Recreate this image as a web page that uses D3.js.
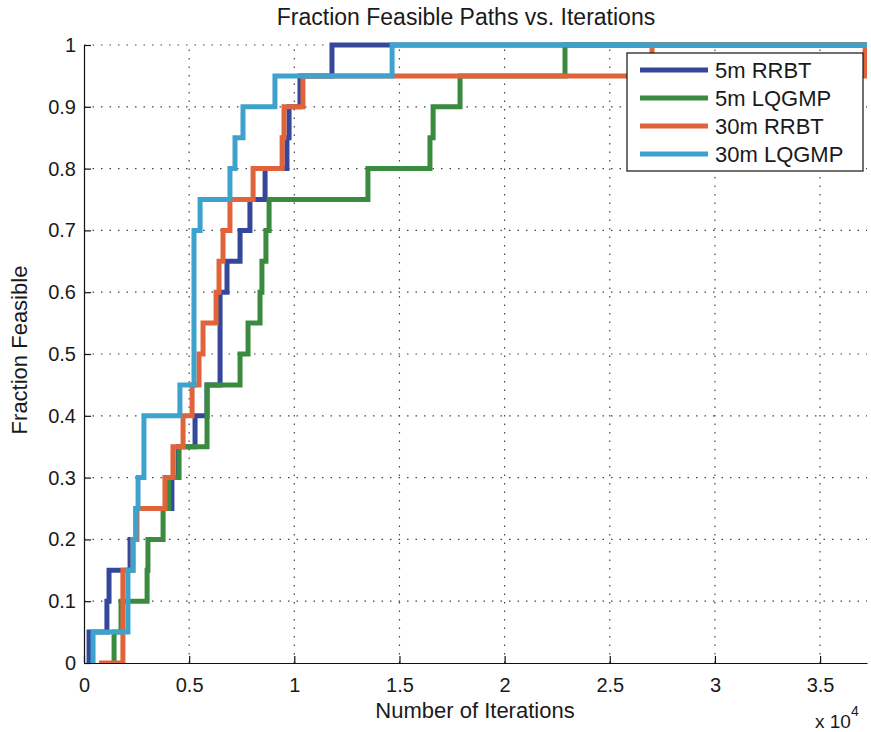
<!DOCTYPE html>
<html>
<head>
<meta charset="utf-8">
<script src="https://cdn.jsdelivr.net/npm/d3@7"></script>
<style>
  body { margin: 0; background: #fff; }
  svg text { font-family: "Liberation Sans", Arial, sans-serif; fill: #1a1a1a; }
</style>
</head>
<body>
<div id="chart"></div>
<script>
// iterations (x) at which each stair step happens, and the fraction reached there
const rrbt5X = [240, 240, 1090, 1190, 2190, 2470, 4180, 4470, 5280, 5850, 6470, 6470, 6470, 6800, 7420, 7890, 8610, 9650, 9750, 10270, 11790, 37230];
const rrbt5Y = [0, 0.05, 0.1, 0.15, 0.2, 0.25, 0.3, 0.35, 0.4, 0.45, 0.5, 0.55, 0.6, 0.65, 0.7, 0.75, 0.8, 0.85, 0.9, 0.95, 1, 1];

const lqgmp5X = [1430, 1430, 1760, 3000, 3040, 3760, 4040, 4520, 5850, 5850, 7420, 7800, 8370, 8460, 8650, 8800, 13500, 16450, 16600, 17880, 22870, 37230];
const lqgmp5Y = [0, 0.05, 0.1, 0.15, 0.2, 0.25, 0.3, 0.35, 0.4, 0.45, 0.5, 0.55, 0.6, 0.65, 0.7, 0.75, 0.8, 0.85, 0.9, 0.95, 1, 1];

const rrbt30X = [710, 1850, 1850, 1850, 2330, 2520, 3850, 4230, 4710, 5140, 5470, 5660, 6280, 6420, 6610, 6940, 8040, 9420, 9510, 10410, 27010, 37140, 37230];
const rrbt30Y = [0, 0.05, 0.1, 0.15, 0.2, 0.25, 0.3, 0.35, 0.4, 0.45, 0.5, 0.55, 0.6, 0.65, 0.7, 0.75, 0.8, 0.85, 0.9, 0.95, 1, 0.95, 0.95];

const lqgmp30X = [430, 430, 2090, 2090, 2330, 2470, 2570, 2850, 2850, 4560, 5230, 5230, 5230, 5230, 5230, 5520, 6940, 7180, 7560, 9080, 14650, 37230];
const lqgmp30Y = [0, 0.05, 0.1, 0.15, 0.2, 0.25, 0.3, 0.35, 0.4, 0.45, 0.5, 0.55, 0.6, 0.65, 0.7, 0.75, 0.8, 0.85, 0.9, 0.95, 1, 1];

const seriesNames = ["5m RRBT", "5m LQGMP", "30m RRBT", "30m LQGMP"];
const xTicks = [0, 5000, 10000, 15000, 20000, 25000, 30000, 35000];
const xTickLabels = ["0", "0.5", "1", "1.5", "2", "2.5", "3", "3.5"];
const yTicks = [0, 0.1, 0.2, 0.3, 0.4, 0.5, 0.6, 0.7, 0.8, 0.9, 1];
const yTickLabels = ["0", "0.1", "0.2", "0.3", "0.4", "0.5", "0.6", "0.7", "0.8", "0.9", "1"];

const colors = ["#34479b", "#3a8a3f", "#e0633a", "#3da3cc"];
const width = 871, height = 732;
const plot = {left: 84, top: 45, right: 867, bottom: 663};
const font = "Liberation Sans, Arial, sans-serif";

const xscale = d3.scaleLinear().domain([0, 37230]).range([plot.left, plot.right]);
const yscale = d3.scaleLinear().domain([0, 1]).range([plot.bottom, plot.top]);

const svg = d3.select("#chart").append("svg")
    .attr("width", width)
    .attr("height", height);

svg.append("defs").append("clipPath").attr("id", "clip")
    .append("rect")
    .attr("x", plot.left).attr("y", plot.top - 6)
    .attr("width", plot.right - plot.left).attr("height", plot.bottom - plot.top + 6);

// dotted grid
const grid = svg.append("g")
    .attr("stroke", "#444")
    .attr("stroke-width", 1.2)
    .attr("stroke-dasharray", "1.5,7");
grid.selectAll(".gx").data(xTicks.slice(1)).join("line")
    .attr("x1", d => xscale(d)).attr("x2", d => xscale(d))
    .attr("y1", plot.bottom).attr("y2", plot.top);
grid.selectAll(".gy").data(yTicks.slice(1)).join("line")
    .attr("y1", d => yscale(d)).attr("y2", d => yscale(d))
    .attr("x1", plot.left).attr("x2", plot.right);

// axes, ticks point inward like matlab
const xaxis = d3.axisBottom(xscale).tickValues(xTicks)
    .tickFormat((d, i) => xTickLabels[i])
    .tickSizeInner(-7).tickSizeOuter(0).tickPadding(15);
const yaxis = d3.axisLeft(yscale).tickValues(yTicks)
    .tickFormat((d, i) => yTickLabels[i])
    .tickSizeInner(-7).tickSizeOuter(0).tickPadding(8);

svg.append("g")
    .attr("transform", `translate(0, ${plot.bottom})`)
    .call(xaxis)
    .call(g => g.selectAll("text").style("font", `20px ${font}`).attr("fill", "#1a1a1a"))
    .call(g => g.selectAll("line, path").attr("stroke", "#111").attr("stroke-width", 1.2));
svg.append("g")
    .attr("transform", `translate(${plot.left}, 0)`)
    .call(yaxis)
    .call(g => g.selectAll("text").style("font", `20px ${font}`).attr("fill", "#1a1a1a"))
    .call(g => g.selectAll("line, path").attr("stroke", "#111").attr("stroke-width", 1.2));

// stair lines
const series = [
    {name: seriesNames[0], xs: rrbt5X, ys: rrbt5Y},
    {name: seriesNames[1], xs: lqgmp5X, ys: lqgmp5Y},
    {name: seriesNames[2], xs: rrbt30X, ys: rrbt30Y},
    {name: seriesNames[3], xs: lqgmp30X, ys: lqgmp30Y}
];
const stairs = d3.line()
    .x(d => xscale(d[0]))
    .y(d => yscale(d[1]))
    .curve(d3.curveStepAfter);

svg.append("g").attr("clip-path", "url(#clip)")
    .selectAll("path").data(series).join("path")
    .attr("fill", "none")
    .attr("stroke", (d, i) => colors[i])
    .attr("stroke-width", 5)
    .attr("stroke-linejoin", "miter")
    .attr("d", d => stairs(d.xs.map((x, i) => [x, d.ys[i]])));

// title and labels
svg.append("text")
    .attr("x", 466).attr("y", 25)
    .attr("text-anchor", "middle")
    .style("font", `23px ${font}`)
    .text("Fraction Feasible Paths vs. Iterations");
svg.append("text")
    .attr("x", 475).attr("y", 718)
    .attr("text-anchor", "middle")
    .style("font", `22px ${font}`)
    .text("Number of Iterations");
svg.append("text")
    .attr("transform", "translate(27, 350) rotate(-90)")
    .attr("text-anchor", "middle")
    .style("font", `22px ${font}`)
    .text("Fraction Feasible");

const expo = svg.append("text")
    .attr("x", 815).attr("y", 728)
    .style("font", `19px ${font}`);
expo.append("tspan").text("x 10");
expo.append("tspan").attr("dy", -12).style("font-size", "14px").text("4");

// legend
const legend = svg.append("g").attr("transform", "translate(627, 53)");
legend.append("rect")
    .attr("width", 236).attr("height", 118)
    .attr("fill", "#fff").attr("stroke", "#111").attr("stroke-width", 1.2);
const rows = legend.selectAll(".entry").data(seriesNames).join("g")
    .attr("transform", (d, i) => `translate(0, ${17 + i * 28})`);
rows.append("line")
    .attr("x1", 13).attr("x2", 81)
    .attr("stroke", (d, i) => colors[i])
    .attr("stroke-width", 5);
rows.append("text")
    .attr("x", 88).attr("dy", "0.36em")
    .style("font", `22px ${font}`)
    .text(d => d);
</script>
</body>
</html>
